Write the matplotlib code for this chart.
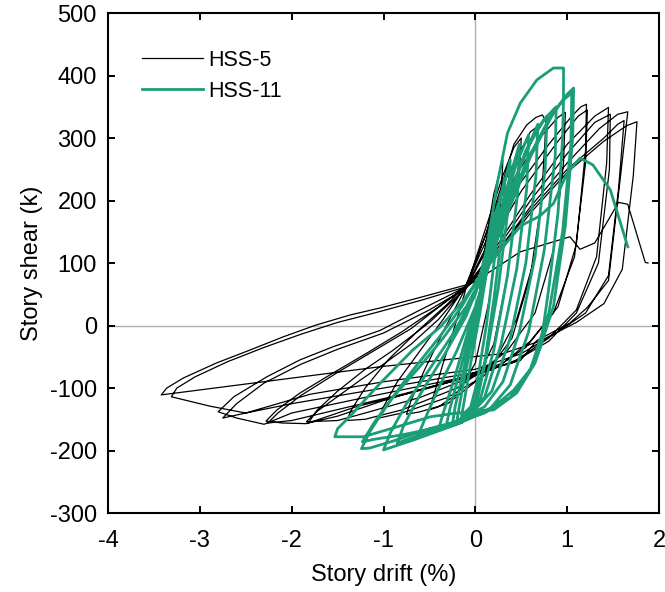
import numpy as np
import matplotlib
matplotlib.use("Agg")
import matplotlib.pyplot as plt

# story drift (%) / story shear (k) traces
hss5_path = [
    (0.0, 0), (0.1, 120), (0.2, 210), (0.30, 265),
    (0.27, 180), (0.15, 40), (0.0, -60), (-0.2, -110), (-0.4, -130), (-0.5, -135),
    # cycle 2
    (-0.45, -110), (-0.35, -60), (-0.2, 10), (-0.1, 60), (0.1, 150), (0.3, 240), (0.42, 285), (0.50, 300),
    (0.47, 220), (0.35, 80), (0.2, -30), (0.0, -90), (-0.3, -125), (-0.6, -138), (-0.75, -142),
    # cycle 3
    (-0.7, -120), (-0.55, -70), (-0.35, -10), (-0.1, 62), (0.1, 140), (0.3, 230), (0.42, 290), (0.56, 321),
    (0.66, 333), (0.73, 337), (0.77, 326), (0.72, 200), (0.6, 80), (0.4, -20), (0.1, -80), (-0.3, -115),
    (-0.8, -140), (-1.05, -148),
    # cycle 4
    (-1.0, -130), (-0.85, -90), (-0.6, -40), (-0.35, 10), (-0.1, 65), (0.1, 140), (0.35, 240), (0.6, 310),
    (0.78, 330), (0.76, 250), (0.65, 110), (0.45, 10), (0.2, -60), (-0.2, -100), (-0.8, -135), (-1.2, -150),
    (-1.40, -152),
    # cycle 5
    (-1.35, -135), (-1.2, -100), (-0.95, -55), (-0.6, -5), (-0.3, 35), (-0.1, 65), (0.1, 130), (0.4, 230),
    (0.7, 300), (0.9, 333), (0.98, 341), (0.96, 260), (0.85, 120), (0.65, 20), (0.35, -40), (0.0, -80),
    (-0.6, -115), (-1.2, -140), (-1.5, -152), (-1.84, -154),
    # cycle 6
    (-1.73, -138), (-1.55, -119), (-1.25, -87), (-1.04, -66), (-0.7, -30), (-0.4, 10), (-0.1, 62),
    (0.1, 120), (0.4, 210), (0.8, 290), (1.05, 335), (1.15, 350), (1.21, 354), (1.2, 280), (1.1, 130),
    (0.9, 30), (0.6, -25), (0.3, -60), (-0.3, -90), (-1.0, -120), (-1.5, -145), (-1.82, -156),
    # cycle 7
    (-1.72, -135), (-1.5, -105), (-1.2, -70), (-0.9, -40), (-0.5, 5), (-0.1, 60), (0.1, 115), (0.5, 215),
    (0.9, 295), (1.12, 335), (1.22, 345), (1.2, 260), (1.08, 110), (0.85, 20), (0.55, -35), (0.2, -70),
    (-0.5, -100), (-1.3, -130), (-1.84, -157), (-2.1, -156), (-2.28, -153),
    # cycle 8
    (-2.16, -135), (-1.91, -108), (-1.55, -76), (-1.18, -44), (-0.8, -10), (-0.4, 30), (-0.1, 62),
    (0.2, 120), (0.6, 210), (1.0, 290), (1.3, 335), (1.45, 349), (1.43, 260), (1.32, 110), (1.1, 25),
    (0.8, -20), (0.45, -55), (0.0, -80), (-0.8, -110), (-1.6, -138), (-2.0, -152), (-2.26, -156),
    # cycle 9
    (-2.15, -140), (-1.9, -112), (-1.5, -75), (-1.1, -40), (-0.7, -5), (-0.35, 35), (-0.1, 63),
    (0.2, 115), (0.6, 200), (1.0, 275), (1.3, 325), (1.47, 338), (1.46, 250), (1.34, 100), (1.1, 20),
    (0.8, -25), (0.4, -60), (-0.2, -85), (-1.2, -115), (-2.0, -140), (-2.3, -158), (-2.6, -148),
    (-2.80, -138),
    # cycle 10
    (-2.63, -114), (-2.27, -82), (-1.91, -55), (-1.55, -34), (-1.04, -8), (-0.6, 25), (-0.1, 62),
    (0.2, 110), (0.6, 190), (1.0, 260), (1.35, 315), (1.55, 338), (1.66, 342), (1.58, 238), (1.45, 72),
    (1.22, 29), (1.03, 4), (0.67, -24), (0.49, -56), (0.0, -75), (-1.0, -100), (-2.0, -125),
    (-2.5, -140), (-2.75, -148),
    # cycle 11
    (-2.6, -125), (-2.3, -92), (-1.9, -62), (-1.5, -38), (-1.0, -12), (-0.5, 25), (-0.1, 60),
    (0.2, 105), (0.6, 180), (1.0, 245), (1.4, 295), (1.65, 320), (1.76, 326), (1.72, 240), (1.6, 90),
    (1.4, 35), (1.1, 5), (0.7, -25), (0.3, -45), (-1.04, -66), (-2.2, -88), (-3.42, -111),
    # cycle 12
    (-3.36, -100), (-3.18, -84), (-2.82, -60), (-2.45, -39), (-2.09, -18), (-1.73, 1), (-1.36, 17),
    (-1.04, 28), (-0.6, 45), (-0.1, 65), (0.2, 110), (0.6, 185), (1.0, 250), (1.4, 300), (1.55, 322),
    (1.62, 328), (1.56, 220), (1.45, 80), (1.2, 20), (0.9, -10), (0.5, -45), (0.0, -70), (-1.0, -90),
    (-1.8, -110), (-2.5, -140), (-2.89, -129), (-3.31, -114),
    # last excursion
    (-3.25, -100), (-3.05, -82), (-2.7, -58), (-2.3, -35), (-1.9, -14), (-1.5, 5), (-1.1, 20),
    (-0.6, 40), (-0.1, 62), (0.2, 90), (0.49, 118), (1.03, 142), (1.14, 122), (1.30, 132),
    (1.56, 197), (1.66, 194), (1.85, 101), (1.88, 100),
]

hss11_path = [
    (0.0, 0), (0.1, 100), (0.2, 170), (0.25, 195),
    (0.22, 120), (0.12, 0), (0.02, -90), (-0.05, -130), (-0.15, -145),
    # cycle 2
    (-0.12, -120), (-0.05, -60), (0.05, 20), (0.15, 110), (0.25, 190), (0.32, 235),
    (0.3, 160), (0.2, 40), (0.1, -60), (0.0, -120), (-0.1, -145), (-0.2, -152),
    # cycle 3
    (-0.17, -125), (-0.1, -70), (0.0, 0), (0.1, 80), (0.25, 190), (0.38, 265),
    (0.36, 190), (0.25, 60), (0.12, -50), (0.02, -120), (-0.12, -150), (-0.25, -158),
    # cycle 4
    (-0.22, -130), (-0.15, -85), (-0.05, -20), (0.08, 60), (0.25, 170), (0.4, 250), (0.48, 290),
    (0.46, 210), (0.35, 80), (0.2, -40), (0.05, -120), (-0.15, -155), (-0.32, -163),
    # cycle 5
    (-0.28, -135), (-0.2, -90), (-0.08, -25), (0.05, 50), (0.25, 160), (0.45, 260), (0.58, 305),
    (0.56, 220), (0.45, 90), (0.28, -30), (0.1, -115), (-0.15, -155), (-0.4, -166),
    # cycle 6
    (-0.35, -140), (-0.25, -95), (-0.1, -20), (0.05, 50), (0.3, 170), (0.5, 260), (0.68, 322),
    (0.66, 240), (0.55, 100), (0.38, -20), (0.18, -105), (-0.1, -150), (-0.5, -170), (-0.63, -178),
    # cycle 7
    (-0.55, -150), (-0.4, -100), (-0.2, -40), (0.0, 30), (0.2, 120), (0.45, 240), (0.65, 310),
    (0.78, 335), (0.76, 250), (0.65, 110), (0.48, -10), (0.3, -90), (0.1, -130), (-0.3, -160),
    (-0.7, -180), (-0.85, -188),
    # cycle 8
    (-0.78, -160), (-0.6, -110), (-0.35, -50), (-0.1, 15), (0.1, 90), (0.3, 180), (0.55, 280),
    (0.75, 330), (0.88, 350), (0.87, 270), (0.75, 120), (0.58, -10), (0.38, -95), (0.15, -135),
    (-0.2, -158), (-0.67, -183), (-1.0, -199),
    # cycle 9 (largest peak)
    (-0.92, -170), (-0.75, -125), (-0.5, -70), (-0.25, -15), (0.0, 50), (0.12, 120), (0.24, 228),
    (0.35, 308), (0.49, 356), (0.67, 393), (0.85, 412), (0.96, 412), (0.96, 361), (0.95, 300),
    (0.9, 180), (0.8, 60), (0.71, -34), (0.6, -70), (0.42, -103), (0.2, -130), (0.02, -141),
    (-0.16, -152), (-0.5, -165), (-0.9, -185), (-1.15, -196), (-1.24, -197),
    # cycle 10
    (-1.15, -170), (-0.95, -125), (-0.7, -75), (-0.4, -20), (-0.15, 30), (0.05, 80), (0.3, 170),
    (0.55, 260), (0.8, 330), (0.95, 360), (1.05, 372), (1.04, 290), (0.95, 150), (0.8, 20),
    (0.6, -70), (0.38, -115), (0.1, -140), (-0.3, -160), (-0.8, -175), (-1.1, -182), (-1.23, -186),
    # cycle 11
    (-1.1, -155), (-0.9, -115), (-0.6, -65), (-0.35, -20), (-0.1, 30), (0.1, 85), (0.35, 180),
    (0.6, 270), (0.85, 340), (1.0, 370), (1.07, 380), (1.06, 300), (0.98, 160), (0.85, 30),
    (0.65, -60), (0.45, -108), (0.2, -135), (-0.2, -140), (-0.49, -146), (-0.85, -162),
    (-1.22, -178), (-1.53, -178),
    # last excursion
    (-1.5, -165), (-1.37, -146), (-1.04, -93), (-0.68, -39), (-0.38, -2), (-0.13, 40), (0.05, 78),
    (0.27, 121), (0.5, 160), (0.7, 175), (0.85, 195), (1.0, 244), (1.14, 268), (1.28, 257),
    (1.47, 217), (1.66, 126),
]

x_ticks = [-4, -3, -2, -1, 0, 1, 2]
y_ticks = [-300, -200, -100, 0, 100, 200, 300, 400, 500]

plt.rcParams["font.family"] = ["Liberation Sans", "DejaVu Sans"]
plt.rcParams["axes.unicode_minus"] = False

fig = plt.figure(figsize=(6.65, 5.92), dpi=100)
ax = fig.add_axes([0.1624, 0.1334, 0.8286, 0.8446])

ax.axhline(0, color="#b0b0b0", lw=1.0, zorder=1)
ax.axvline(0, color="#b0b0b0", lw=1.0, zorder=1)

x5, y5 = np.array(hss5_path).T
x11, y11 = np.array(hss11_path).T
ax.plot(x5, y5, color="black", lw=0.9, label="HSS-5", zorder=2)
ax.plot(x11, y11, color="#1b9e77", lw=2.0, label="HSS-11", zorder=3)

ax.set_xlim(-4, 2)
ax.set_ylim(-300, 500)
ax.set_xticks(x_ticks)
ax.set_yticks(y_ticks)
ax.tick_params(direction="in", length=5, width=1.4, labelsize=17, top=True, right=True)
ax.tick_params(axis="x", pad=12)
ax.tick_params(axis="y", pad=8)
for s in ax.spines.values():
    s.set_linewidth(1.5)

ax.set_xlabel("Story drift (%)", fontsize=17, labelpad=9)
ax.set_ylabel("Story shear (k)", fontsize=17, labelpad=5)

ax.legend(loc="upper left", frameon=False, fontsize=15.5, handlelength=2.8,
          bbox_to_anchor=(0.027, 0.965), handletextpad=0.25, labelspacing=0.45)

fig.savefig("out.png", dpi=100)
